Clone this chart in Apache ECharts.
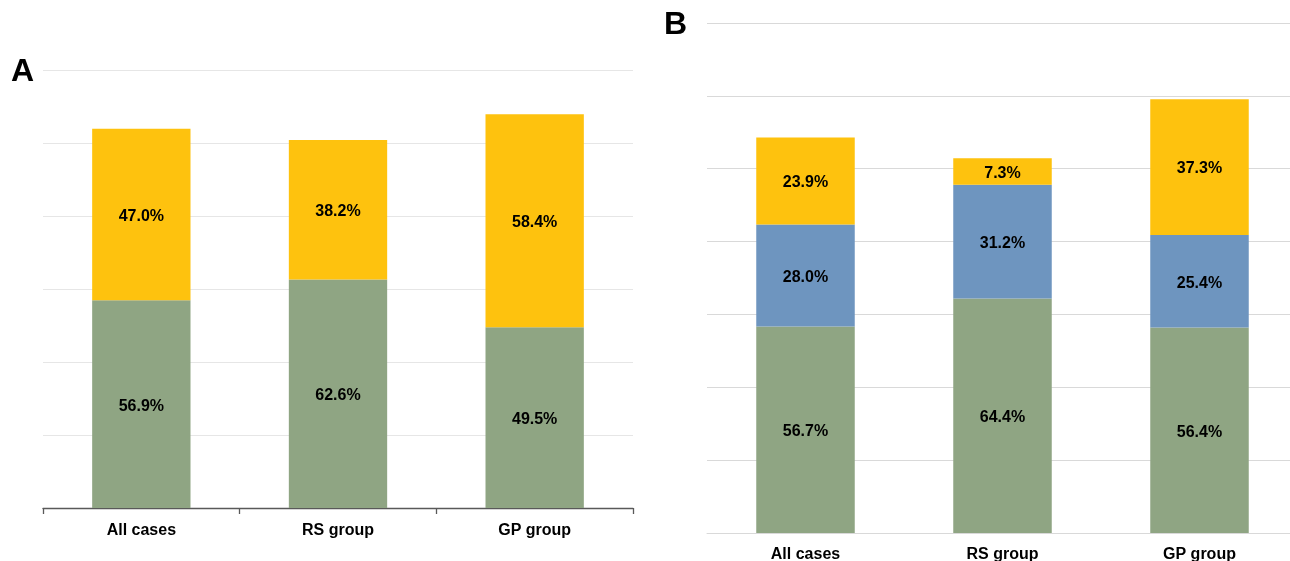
<!DOCTYPE html>
<html><head><meta charset="utf-8">
<script src="https://cdn.jsdelivr.net/npm/echarts@6/dist/echarts.min.js"></script>
<style>html,body{margin:0;padding:0;background:#fff}#c{width:1290px;height:561px}</style>
</head><body><div id="c"></div>
<script>
const categories = ['All cases', 'RS group', 'GP group'];
// Panel A
const aGreen = [56.9, 62.6, 49.5];
const aYellow = [47.0, 38.2, 58.4];
// Panel B
const bGreen = [56.7, 64.4, 56.4];
const bBlue = [28.0, 31.2, 25.4];
const bYellow = [23.9, 7.3, 37.3];

const GREEN = '#8fa583', YELLOW = '#fec20e', BLUE = '#6e95bf';
const FONT = '"Liberation Sans", Arial, sans-serif';
const lbl = {show: true, position: 'inside', offset: [0, 2], color: '#000', fontWeight: 'bold', fontSize: 16, fontFamily: FONT,
  formatter: p => p.value.toFixed(1) + '%'};

const chart = echarts.init(document.getElementById('c'));
function bar(data, color, idx, stack) {
  return {type: 'bar', data, stack, xAxisIndex: idx, yAxisIndex: idx, barWidth: '50%',
    itemStyle: {color}, label: lbl, silent: true};
}
chart.setOption({
  animation: false,
  textStyle: {fontFamily: FONT},
  grid: [
    {left: 43, width: 590, top: 70, bottom: 53, outerBoundsMode: 'none', containLabel: false},
    {left: 707, width: 591, top: 23, bottom: 28, outerBoundsMode: 'none', containLabel: false}
  ],
  xAxis: [
    {gridIndex: 0, type: 'category', data: categories,
      axisLine: {lineStyle: {color: '#595959', width: 1.3}},
      axisTick: {show: true, length: 6, lineStyle: {color: '#595959', width: 1.3}},
      axisLabel: {color: '#000', fontWeight: 'bold', fontSize: 16, margin: 15, fontFamily: FONT}},
    {gridIndex: 1, type: 'category', data: categories,
      axisLine: {lineStyle: {color: '#d9d9d9', width: 1}},
      axisTick: {show: false},
      axisLabel: {color: '#000', fontWeight: 'bold', fontSize: 16, margin: 14, fontFamily: FONT}}
  ],
  yAxis: [
    {gridIndex: 0, type: 'value', min: 0, max: 120, interval: 20,
      axisLabel: {show: false}, axisLine: {show: false}, axisTick: {show: false},
      splitLine: {lineStyle: {color: '#e6e6e6', width: 1}}},
    {gridIndex: 1, type: 'value', min: 0, max: 140, interval: 20,
      axisLabel: {show: false}, axisLine: {show: false}, axisTick: {show: false},
      splitLine: {lineStyle: {color: '#d9d9d9', width: 1}}}
  ],
  series: [
    bar(aGreen, GREEN, 0, 'a'),
    bar(aYellow, YELLOW, 0, 'a'),
    bar(bGreen, GREEN, 1, 'b'),
    bar(bBlue, BLUE, 1, 'b'),
    bar(bYellow, YELLOW, 1, 'b')
  ],
  graphic: [
    {type: 'text', left: 11, top: 56, style: {text: 'A', fontSize: 32, fontWeight: 'bold', fill: '#000', fontFamily: FONT}},
    {type: 'text', left: 664, top: 9, style: {text: 'B', fontSize: 32, fontWeight: 'bold', fill: '#000', fontFamily: FONT}}
  ]
});
</script></body></html>
